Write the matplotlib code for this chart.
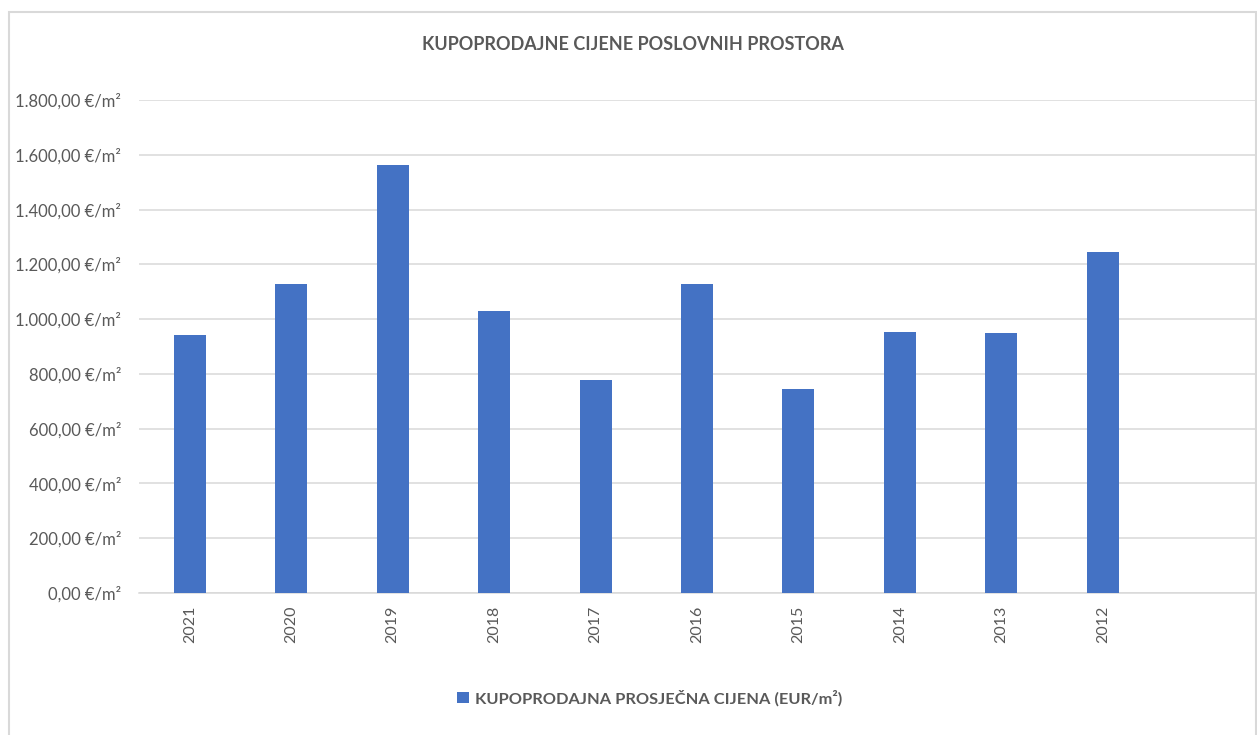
import matplotlib.pyplot as plt
from matplotlib.patches import Rectangle
from matplotlib.ticker import FuncFormatter

years = ['2021', '2020', '2019', '2018', '2017', '2016', '2015', '2014', '2013', '2012']
prices = [942, 1128, 1563, 1030, 778, 1128, 745, 953, 949, 1245]
title = 'KUPOPRODAJNE CIJENE POSLOVNIH PROSTORA'
series_name = 'KUPOPRODAJNA PROSJEČNA CIJENA (EUR/m²)'

plt.rcParams['font.family'] = ['Lato', 'DejaVu Sans']
grey = '#595959'

fig = plt.figure(figsize=(12.57, 7.35), dpi=100)
ax = fig.add_axes([139/1257, 1 - 593/735, 1116/1257, 493/735])

x = list(range(len(years)))
ax.bar(x, prices, width=0.315, color='#4472C4', zorder=3, label=series_name)

ax.set_xlim(-0.5, 10.5)
ax.set_ylim(0, 1800)
ax.set_yticks(range(0, 1801, 200))

def eur(v, pos):
    s = f'{v:,.2f}'.replace(',', 'X').replace('.', ',').replace('X', '.')
    return s + ' €/m²'

ax.yaxis.set_major_formatter(FuncFormatter(eur))
ax.set_xticks(x)
ax.set_xticklabels(years, rotation=90)
ax.tick_params(axis='y', length=0, pad=13, labelsize=12, labelcolor=grey)
ax.tick_params(axis='x', length=0, pad=9, labelsize=11.5, labelcolor=grey)

ax.grid(axis='y', color='#d9d9d9', linewidth=1.1, zorder=0)
for s in ['top', 'right', 'left']:
    ax.spines[s].set_visible(False)
ax.spines['bottom'].set_color('#d9d9d9')
ax.spines['bottom'].set_linewidth(1.1)

fig.text(633/1257, 1 - 45/735, title, ha='center', va='center',
         fontsize=13, fontweight='bold', color=grey)

leg = fig.legend(loc='center', bbox_to_anchor=(650/1257, 1 - 698/735), frameon=False,
                 fontsize=11.8, handlelength=0.7, handleheight=0.7, handletextpad=0.4)
for t in leg.get_texts():
    t.set_color(grey)
    t.set_fontweight('bold')

fig.patches.append(Rectangle((9/1257, -0.01), 1247/1257, 1 - 12/735 + 0.01,
                             transform=fig.transFigure, fill=False,
                             edgecolor='#d9d9d9', linewidth=1.5))

fig.savefig('out.png', dpi=100)
